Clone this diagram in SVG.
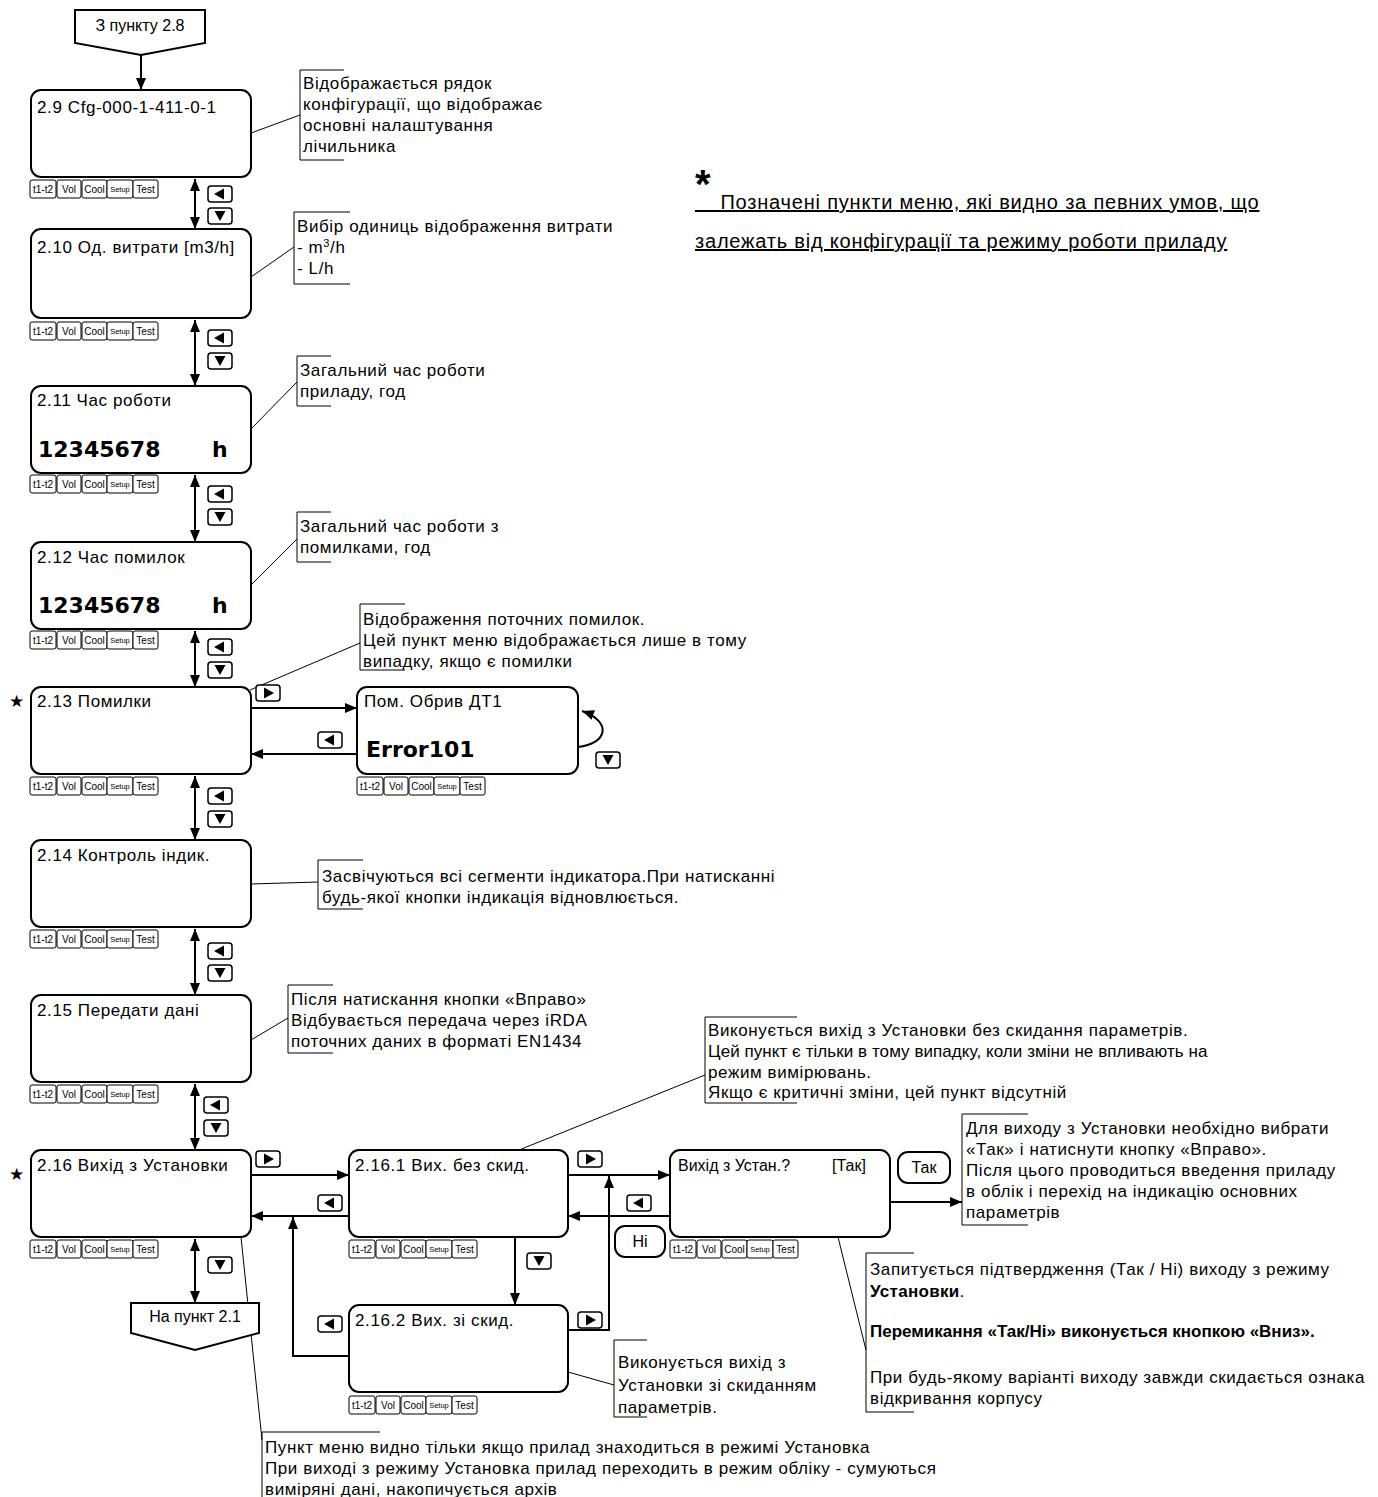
<svg xmlns="http://www.w3.org/2000/svg" xmlns:xlink="http://www.w3.org/1999/xlink" width="1378" height="1497" viewBox="0 0 1378 1497">
<style>
.bg{fill:#fff}
.node{fill:#fff;stroke:#000;stroke-width:2}
.t{font-family:"Liberation Sans",Arial,sans-serif;font-size:17px;letter-spacing:0.6px;fill:#000}
.a{font-family:"Liberation Sans",Arial,sans-serif;font-size:17px;letter-spacing:0.6px;fill:#000}
.n{font-family:"Liberation Sans",Arial,sans-serif;font-size:16px;fill:#000}
.ab{font-family:"Liberation Sans",Arial,sans-serif;font-size:17px;font-weight:bold;fill:#000}
.big{font-family:"DejaVu Sans",Verdana,sans-serif;font-size:22px;font-weight:bold;fill:#000}
.tab{fill:#fff;stroke:#000;stroke-width:1}
.tt{font-family:"Liberation Sans",Arial,sans-serif;font-size:10px;fill:#000;text-anchor:middle}
.ts{font-family:"Liberation Sans",Arial,sans-serif;font-size:7.5px;fill:#000;text-anchor:middle}
.btn{fill:#fff;stroke:#000;stroke-width:1.5}
.conn{fill:none;stroke:#000;stroke-width:2}
.lead{fill:none;stroke:#000;stroke-width:1}
.star{font-family:"DejaVu Sans",sans-serif;font-size:17px;fill:#000}
.leg{font-family:"Liberation Sans",Arial,sans-serif;font-size:20px;letter-spacing:0.8px;fill:#000;text-decoration:underline}
</style>
<defs>
<marker id="ah" viewBox="0 0 12 10" refX="12" refY="5" markerWidth="12" markerHeight="10" markerUnits="userSpaceOnUse" orient="auto-start-reverse">
<path d="M0,0 L12,5 L0,10 z" fill="#000"/>
</marker>
<g id="tabs">
<rect class="tab" x="0" y="0" width="26" height="18" rx="2"/>
<rect class="tab" x="27" y="0" width="24" height="18" rx="2"/>
<rect class="tab" x="52" y="0" width="25" height="18" rx="2"/>
<rect class="tab" x="77" y="0" width="26" height="18" rx="2"/>
<rect class="tab" x="103" y="0" width="25" height="18" rx="2"/>
<text class="tt" x="13" y="12.5">t1-t2</text>
<text class="tt" x="39" y="12.5">Vol</text>
<text class="tt" x="64.5" y="12.5">Cool</text>
<text class="ts" x="90" y="11.5">Setup</text>
<text class="tt" x="115.5" y="12.5">Test</text>
</g>
<g id="bL"><rect class="btn" x="0" y="0" width="24" height="16" rx="3"/><path d="M6,8 L16,2.5 L16,13.5 z" fill="#000"/></g>
<g id="bD"><rect class="btn" x="0" y="0" width="24" height="16" rx="3"/><path d="M6.5,3 L17.5,3 L12,13 z" fill="#000"/></g>
<g id="bR"><rect class="btn" x="0" y="0" width="24" height="16" rx="3"/><path d="M8,2.5 L8,13.5 L18,8 z" fill="#000"/></g>
</defs>
<rect class="bg" x="0" y="0" width="1378" height="1497"/>

<g id="connectors">
<line class="conn" x1="141" y1="55" x2="141" y2="90" marker-end="url(#ah)"/>
<line class="conn" x1="195" y1="179" x2="195" y2="229" marker-start="url(#ah)" marker-end="url(#ah)"/>
<line class="conn" x1="195" y1="320" x2="195" y2="386" marker-start="url(#ah)" marker-end="url(#ah)"/>
<line class="conn" x1="195" y1="475" x2="195" y2="542" marker-start="url(#ah)" marker-end="url(#ah)"/>
<line class="conn" x1="195" y1="631" x2="195" y2="687" marker-start="url(#ah)" marker-end="url(#ah)"/>
<line class="conn" x1="195" y1="776" x2="195" y2="840" marker-start="url(#ah)" marker-end="url(#ah)"/>
<line class="conn" x1="195" y1="929" x2="195" y2="995" marker-start="url(#ah)" marker-end="url(#ah)"/>
<line class="conn" x1="195" y1="1084" x2="195" y2="1150" marker-start="url(#ah)" marker-end="url(#ah)"/>
<line class="conn" x1="195" y1="1239" x2="195" y2="1303" marker-start="url(#ah)" marker-end="url(#ah)"/>
<line class="conn" x1="251" y1="708" x2="357" y2="708" marker-end="url(#ah)"/>
<line class="conn" x1="357" y1="754" x2="251" y2="754" marker-end="url(#ah)"/>
<path class="conn" d="M578,747 C607,744 613,722 582,711" marker-end="url(#ah)"/>
<line class="conn" x1="251" y1="1175" x2="349" y2="1175" marker-end="url(#ah)"/>
<line class="conn" x1="349" y1="1216" x2="251" y2="1216" marker-end="url(#ah)"/>
<path class="conn" d="M349,1356 H293 V1217" marker-end="url(#ah)"/>
<line class="conn" x1="568" y1="1175" x2="670" y2="1175" marker-end="url(#ah)"/>
<line class="conn" x1="670" y1="1216" x2="568" y2="1216" marker-end="url(#ah)"/>
<path class="conn" d="M568,1330 H609 V1176" marker-end="url(#ah)"/>
<line class="conn" x1="515" y1="1237" x2="515" y2="1305" marker-end="url(#ah)"/>
<line class="conn" x1="890" y1="1202" x2="962" y2="1202" marker-end="url(#ah)"/>

<line class="lead" x1="251" y1="133" x2="300" y2="115"/>
<line class="lead" x1="251" y1="277" x2="294" y2="247"/>
<line class="lead" x1="251" y1="429" x2="297" y2="382"/>
<line class="lead" x1="251" y1="585" x2="297" y2="539"/>
<line class="lead" x1="250" y1="690" x2="360" y2="643"/>
<line class="lead" x1="251" y1="884" x2="318" y2="882"/>
<line class="lead" x1="251" y1="1040" x2="288" y2="1018"/>
<line class="lead" x1="519" y1="1150" x2="705" y2="1075"/>
<line class="lead" x1="838" y1="1237" x2="866" y2="1350"/>
<line class="lead" x1="568" y1="1372" x2="614" y2="1385"/>
<line class="lead" x1="241" y1="1237" x2="262" y2="1440"/>
</g>

<g id="buttons">
<use xlink:href="#bL" x="208" y="186"/><use xlink:href="#bD" x="208" y="208"/>
<use xlink:href="#bL" x="208" y="330"/><use xlink:href="#bD" x="208" y="353"/>
<use xlink:href="#bL" x="208" y="486"/><use xlink:href="#bD" x="208" y="509"/>
<use xlink:href="#bL" x="208" y="639"/><use xlink:href="#bD" x="208" y="662"/>
<use xlink:href="#bL" x="208" y="788"/><use xlink:href="#bD" x="208" y="811"/>
<use xlink:href="#bL" x="208" y="943"/><use xlink:href="#bD" x="208" y="965"/>
<use xlink:href="#bL" x="204" y="1097"/><use xlink:href="#bD" x="204" y="1120"/>
<use xlink:href="#bD" x="208" y="1257"/>
<use xlink:href="#bR" x="256" y="685"/><use xlink:href="#bL" x="318" y="732"/>
<use xlink:href="#bD" x="596" y="752"/>
<use xlink:href="#bR" x="256" y="1151"/><use xlink:href="#bL" x="318" y="1195"/>
<use xlink:href="#bR" x="578" y="1151"/><use xlink:href="#bL" x="627" y="1195"/>
<use xlink:href="#bD" x="527" y="1253"/>
<use xlink:href="#bL" x="318" y="1316"/><use xlink:href="#bR" x="578" y="1312"/>
</g>

<g id="n-from28">
<path class="node" d="M75,10 H205 V43 L141,55 L75,43 z" stroke-width="1.5"/>
<text class="n" x="140" y="31" text-anchor="middle" font-size="15">З пункту 2.8</text>
</g>
<g id="n-2-9">
<rect class="node" x="31" y="90" width="220" height="87" rx="10"/>
<text class="t" x="37" y="113">2.9 Cfg-000-1-411-0-1</text>
<use xlink:href="#tabs" x="30" y="180"/>
</g>
<g id="n-2-10">
<rect class="node" x="31" y="229" width="220" height="89" rx="10"/>
<text class="t" x="37" y="253">2.10 Од. витрати [m3/h]</text>
<use xlink:href="#tabs" x="30" y="322"/>
</g>
<g id="n-2-11">
<rect class="node" x="31" y="386" width="220" height="87" rx="10"/>
<text class="t" x="37" y="406">2.11 Час роботи</text>
<text class="big" x="38" y="457">12345678</text>
<text class="big" x="212" y="457">h</text>
<use xlink:href="#tabs" x="30" y="475"/>
</g>
<g id="n-2-12">
<rect class="node" x="31" y="542" width="220" height="87" rx="10"/>
<text class="t" x="37" y="563">2.12 Час помилок</text>
<text class="big" x="38" y="613">12345678</text>
<text class="big" x="212" y="613">h</text>
<use xlink:href="#tabs" x="30" y="631"/>
</g>
<g id="n-2-13">
<text class="star" x="9" y="707">★</text>
<rect class="node" x="31" y="687" width="220" height="87" rx="10"/>
<text class="t" x="37" y="707">2.13 Помилки</text>
<use xlink:href="#tabs" x="30" y="777"/>
</g>
<g id="n-err">
<rect class="node" x="357" y="687" width="221" height="87" rx="10"/>
<text class="t" x="364" y="707">Пом. Обрив ДТ1</text>
<text class="big" x="366" y="757">Error101</text>
<use xlink:href="#tabs" x="357" y="777"/>
</g>
<g id="n-2-14">
<rect class="node" x="31" y="840" width="220" height="87" rx="10"/>
<text class="t" x="37" y="861">2.14 Контроль індик.</text>
<use xlink:href="#tabs" x="30" y="930"/>
</g>
<g id="n-2-15">
<rect class="node" x="31" y="995" width="220" height="87" rx="10"/>
<text class="t" x="37" y="1016">2.15 Передати дані</text>
<use xlink:href="#tabs" x="30" y="1085"/>
</g>
<g id="n-2-16">
<text class="star" x="9" y="1180">★</text>
<rect class="node" x="31" y="1150" width="220" height="87" rx="10"/>
<text class="t" x="37" y="1171">2.16 Вихід з Установки</text>
<use xlink:href="#tabs" x="30" y="1240"/>
</g>
<g id="n-to21">
<path class="node" d="M131,1303 H259 V1333 L195,1350 L131,1333 z" stroke-width="1.5"/>
<text class="n" x="195" y="1322" text-anchor="middle" font-size="15">На пункт 2.1</text>
</g>
<g id="n-2-16-1">
<rect class="node" x="349" y="1150" width="219" height="87" rx="10"/>
<text class="t" x="355" y="1171">2.16.1 Вих. без скид.</text>
<use xlink:href="#tabs" x="349" y="1240"/>
</g>
<g id="n-2-16-2">
<rect class="node" x="349" y="1305" width="219" height="87" rx="10"/>
<text class="t" x="355" y="1326">2.16.2 Вих. зі скид.</text>
<use xlink:href="#tabs" x="349" y="1396"/>
</g>
<g id="n-confirm">
<rect class="node" x="670" y="1150" width="220" height="87" rx="10"/>
<text class="n" x="678" y="1171">Вихід з Устан.?</text>
<text class="n" x="832" y="1171">[Так]</text>
<use xlink:href="#tabs" x="670" y="1240"/>
</g>
<g id="n-yes">
<rect class="node" x="898" y="1152" width="52" height="31" rx="10" stroke-width="1.2"/>
<text class="n" x="924" y="1173" text-anchor="middle">Так</text>
</g>
<g id="n-no">
<rect class="node" x="615" y="1226" width="50" height="31" rx="10" stroke-width="1.2"/>
<text class="n" x="640" y="1247" text-anchor="middle">Ні</text>
</g>

<g id="annotations">
<path class="lead" d="M344,70 H300 V160 H344"/>
<text class="a" x="303" y="89">Відображається рядок</text>
<text class="a" x="303" y="110">конфігурації, що відображає</text>
<text class="a" x="303" y="131">основні налаштування</text>
<text class="a" x="303" y="152">лічильника</text>

<path class="lead" d="M350,212 H294 V284 H350"/>
<text class="a" x="297" y="232">Вибір одиниць відображення витрати</text>
<text class="a" x="297" y="253">- m<tspan font-size="11" dy="-6">3</tspan><tspan dy="6">/h</tspan></text>
<text class="a" x="297" y="274">- L/h</text>

<path class="lead" d="M331,356 H297 V406 H331"/>
<text class="a" x="300" y="376">Загальний час роботи</text>
<text class="a" x="300" y="397">приладу, год</text>

<path class="lead" d="M331,512 H297 V562 H331"/>
<text class="a" x="300" y="532">Загальний час роботи з</text>
<text class="a" x="300" y="553">помилками, год</text>

<path class="lead" d="M405,604 H360 V670 H405"/>
<text class="a" x="363" y="625">Відображення поточних помилок.</text>
<text class="a" x="363" y="646">Цей пункт меню відображається лише в тому</text>
<text class="a" x="363" y="667">випадку, якщо є помилки</text>

<path class="lead" d="M363,860 H318 V909 H363"/>
<text class="a" x="322" y="882">Засвічуються всі сегменти індикатора.При натисканні</text>
<text class="a" x="322" y="903">будь-якої кнопки індикація відновлюється.</text>

<path class="lead" d="M333,985 H288 V1053 H333"/>
<text class="a" x="291" y="1005">Після натискання кнопки «Вправо»</text>
<text class="a" x="291" y="1026">Відбувається передача через iRDA</text>
<text class="a" x="291" y="1047">поточних даних в форматі EN1434</text>

<path class="lead" d="M797,1017 H705 V1103 H797"/>
<text class="a" x="708" y="1036">Виконується вихід з Установки без скидання параметрів.</text>
<text class="a" x="708" y="1057" textLength="500" lengthAdjust="spacing">Цей пункт є тільки в тому випадку, коли зміни не впливають на</text>
<text class="a" x="708" y="1078">режим вимірювань.</text>
<text class="a" x="708" y="1098">Якщо є критичні зміни, цей пункт відсутній</text>

<path class="lead" d="M1028,1114 H962 V1225 H1028"/>
<text class="a" x="966" y="1134">Для виходу з Установки необхідно вибрати</text>
<text class="a" x="966" y="1155">«Так» і натиснути кнопку «Вправо».</text>
<text class="a" x="966" y="1176">Після цього проводиться введення приладу</text>
<text class="a" x="966" y="1197">в облік і перехід на індикацію основних</text>
<text class="a" x="966" y="1218">параметрів</text>

<path class="lead" d="M647,1340 H614 V1417 H647"/>
<text class="a" x="618" y="1368">Виконується вихід з</text>
<text class="a" x="618" y="1391">Установки зі скиданням</text>
<text class="a" x="618" y="1413">параметрів.</text>

<path class="lead" d="M914,1253 H866 V1412 H914"/>
<text class="a" x="870" y="1275">Запитується підтвердження (Так / Ні) виходу з режиму</text>
<text class="a" x="870" y="1297"><tspan font-weight="bold" letter-spacing="0.3">Установки</tspan>.</text>
<text class="ab" x="870" y="1337">Перемикання «Так/Ні» виконується кнопкою «Вниз».</text>
<text class="a" x="870" y="1383">При будь-якому варіанті виходу завжди скидається ознака</text>
<text class="a" x="870" y="1404">відкривання корпусу</text>

<path class="lead" d="M380,1432 H262 V1500"/>
<text class="a" x="265" y="1453">Пункт меню видно тільки якщо прилад знаходиться в режимі Установка</text>
<text class="a" x="265" y="1474">При виході з режиму Установка прилад переходить в режим обліку - сумуються</text>
<text class="a" x="265" y="1495">виміряні дані, накопичується архів</text>
</g>

<g id="legend">
<text x="695" y="198" font-family="Liberation Sans,Arial,sans-serif" font-size="40" font-weight="bold">*</text>
<text class="leg" x="695" y="209" style="white-space:pre">    Позначені пункти меню, які видно за певних умов, що</text>
<text class="leg" x="695" y="248">залежать від конфігурації та режиму роботи приладу</text>
</g>
</svg>
